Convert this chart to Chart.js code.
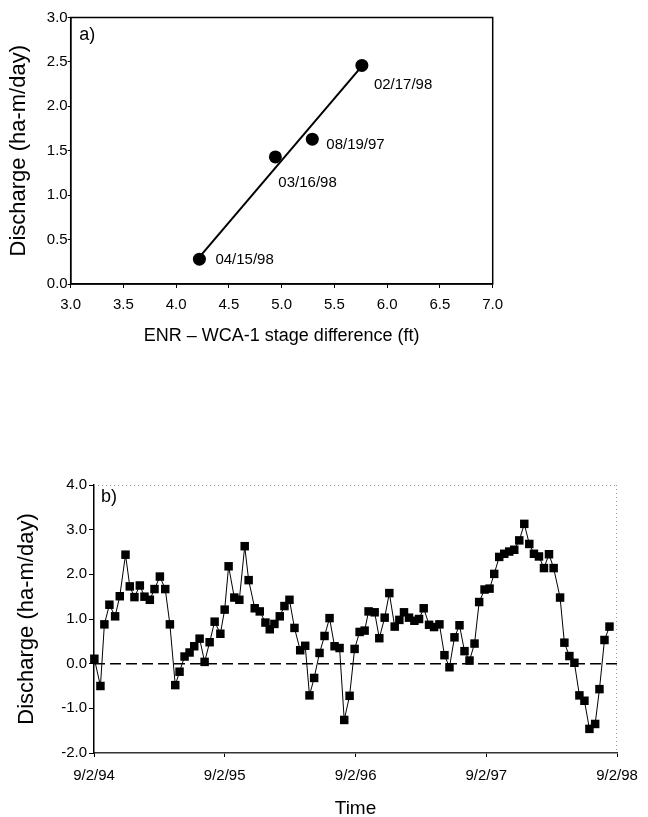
<!DOCTYPE html>
<html><head><meta charset="utf-8">
<script src="https://cdn.jsdelivr.net/npm/chart.js@4/dist/chart.umd.min.js"></script>
<style>
html,body{margin:0;padding:0;background:#fff;width:648px;height:817px;overflow:hidden}
#wa{position:absolute;left:0;top:0;width:648px;height:350px}
#wb{position:absolute;left:0;top:420px;width:648px;height:397px}
canvas{display:block}
</style></head><body>
<div id="wa"><canvas id="ca" width="648" height="350"></canvas></div>
<div id="wb"><canvas id="cb" width="648" height="397"></canvas></div>
<script>
// ---------- Panel a data ----------
const stageDiff  = [4.22, 4.94, 5.29, 5.76];
const dischargeA = [0.28, 1.43, 1.63, 2.46];
const pointDates = ['04/15/98', '03/16/98', '08/19/97', '02/17/98'];
const fitX = [4.24, 5.73];
const fitY = [0.33, 2.41];
const xTicksA = [3.0, 3.5, 4.0, 4.5, 5.0, 5.5, 6.0, 6.5, 7.0];
const yTicksA = [0.0, 0.5, 1.0, 1.5, 2.0, 2.5, 3.0];
const titlesA = {x: 'ENR – WCA-1 stage difference (ft)', y: 'Discharge (ha-m/day)', tag: 'a)'};

// ---------- Panel b data (days since 9/2/94, discharge ha-m/day) ----------
const timeDays = [1,18,29,43,59,72,88,100,113,128,141,156,169,184,199,212,227,239,253,267,280,295,309,323,337,353,
  365,376,392,406,421,432,449,463,479,491,504,519,532,546,560,576,590,602,615,630,644,658,672,686,699,714,728,742,
  756,767,784,797,812,825,840,853,866,880,895,908,921,936,950,965,979,993,1007,1021,1035,1049,1063,
  1076,1091,1105,1118,1132,1146,1160,1174,1188,1202,1216,1229,1243,1257,1271,1284,1302,1314,1328,1342,1356,1370,1384,1400,1412,1426,1440];
const dischargeB = [0.11,-0.50,0.88,1.32,1.06,1.51,2.44,1.73,1.49,1.75,1.50,1.43,1.67,1.95,1.67,0.88,-0.48,-0.18,0.16,0.25,0.39,0.56,0.04,0.48,0.94,0.67,
  1.21,2.18,1.48,1.43,2.63,1.87,1.24,1.17,0.92,0.77,0.89,1.06,1.29,1.43,0.80,0.30,0.40,-0.71,-0.32,0.24,0.62,1.02,0.39,0.35,-1.26,-0.72,0.33,0.71,
  0.74,1.17,1.15,0.57,1.03,1.58,0.83,0.98,1.15,1.03,0.96,1.00,1.24,0.87,0.82,0.88,0.19,-0.08,0.59,0.86,0.28,0.07,0.45,
  1.38,1.66,1.68,2.01,2.39,2.46,2.51,2.55,2.76,3.13,2.68,2.46,2.40,2.14,2.45,2.14,1.48,0.47,0.17,0.02,-0.71,-0.83,-1.46,-1.35,-0.57,0.53,0.83];
const xTickDaysB   = [0, 365, 731, 1096, 1461];
const xTickLabelsB = ['9/2/94', '9/2/95', '9/2/96', '9/2/97', '9/2/98'];
const yTicksB = [-2, -1, 0, 1, 2, 3, 4];
const zeroLevel = 0;
const titlesB = {x: 'Time', y: 'Discharge (ha-m/day)', tag: 'b)'};

// ---------- styles ----------
const FONT = "'Liberation Sans', Arial, Helvetica, sans-serif";
Chart.defaults.font.family = FONT;
Chart.defaults.color = '#000';
const labelOffsets = [[16, 1], [3, 26], [14, 6], [12, 19]];

function txt(ctx, text, x, y, size, align, rotate) {
  ctx.save();
  ctx.translate(x, y);
  if (rotate) ctx.rotate(-Math.PI / 2);
  ctx.font = size + 'px ' + FONT;
  ctx.fillStyle = '#000';
  ctx.textBaseline = 'middle';
  ctx.textAlign = align;
  ctx.fillText(text, 0, 0);
  ctx.restore();
}

const frameA = {
  id: 'frameA',
  afterDraw(chart) {
    const {ctx, chartArea: a} = chart;
    const xs = chart.scales.x, ys = chart.scales.y;
    ctx.save();
    ctx.strokeStyle = '#000'; ctx.lineWidth = 1.5;
    ctx.strokeRect(a.left, a.top, a.right - a.left, a.bottom - a.top);
    ctx.restore();
    pointDates.forEach((t, i) => {
      txt(ctx, t, xs.getPixelForValue(stageDiff[i]) + labelOffsets[i][0],
                  ys.getPixelForValue(dischargeA[i]) + labelOffsets[i][1], 15, 'left', false);
    });
    txt(ctx, titlesA.tag, a.left + 8.5, a.top + 17.5, 18, 'left', false);
    txt(ctx, titlesA.x, (a.left + a.right) / 2, 336, 18, 'center', false);
    txt(ctx, titlesA.y, 19, (a.top + a.bottom) / 2, 22, 'center', true);
  }
};

const frameB = {
  id: 'frameB',
  afterDraw(chart) {
    const {ctx, chartArea: a} = chart;
    ctx.save();
    ctx.strokeStyle = '#9a9a9a'; ctx.lineWidth = 1; ctx.setLineDash([1, 3]);
    ctx.beginPath();
    ctx.moveTo(a.left, a.top + 0.5); ctx.lineTo(a.right, a.top + 0.5);
    ctx.moveTo(a.right - 0.5, a.top); ctx.lineTo(a.right - 0.5, a.bottom);
    ctx.stroke();
    ctx.restore();
    txt(ctx, titlesB.tag, a.left + 7, a.top + 12, 18, 'left', false);
    txt(ctx, titlesB.x, (a.left + a.right) / 2, 389, 19, 'center', false);
    txt(ctx, titlesB.y, 27, (a.top + a.bottom) / 2, 22, 'center', true);
  }
};

const common = {
  responsive: false, animation: false, events: [],
  plugins: {legend: {display: false}, tooltip: {enabled: false}}
};

new Chart(document.getElementById('ca'), {
  type: 'scatter',
  data: {datasets: [
    {data: fitX.map((x, i) => ({x, y: fitY[i]})), showLine: true, borderColor: '#000', borderWidth: 2, pointRadius: 0, order: 2},
    {data: stageDiff.map((x, i) => ({x, y: dischargeA[i]})), pointStyle: 'circle', pointRadius: 6.5,
     pointBackgroundColor: '#000', pointBorderWidth: 0, clip: false, order: 1}
  ]},
  options: Object.assign({}, common, {
    layout: {padding: {top: 17.5, right: 155.3, left: 0, bottom: 0}},
    scales: {
      x: {type: 'linear', min: 3, max: 7,
          afterBuildTicks: s => { s.ticks = xTicksA.map(v => ({value: v})); },
          afterFit: s => { s.height = 66; },
          ticks: {callback: v => Number(v).toFixed(1), maxRotation: 0, autoSkip: false, padding: 8, font: {size: 15}, color: '#000'},
          grid: {drawOnChartArea: false, drawTicks: true, tickLength: 4, color: '#000', lineWidth: 1},
          border: {display: true, color: '#000', width: 1.5},
          title: {display: false}},
      y: {type: 'linear', min: 0, max: 3,
          afterBuildTicks: s => { s.ticks = yTicksA.map(v => ({value: v})); },
          afterFit: s => { s.width = 70.7; },
          ticks: {callback: v => Number(v).toFixed(1), padding: 0, font: {size: 15}, color: '#000'},
          grid: {drawOnChartArea: false, drawTicks: true, tickLength: 3, color: '#000', lineWidth: 1},
          border: {display: true, color: '#000', width: 1.5},
          title: {display: false}}
    }
  }),
  plugins: [frameA]
});

new Chart(document.getElementById('cb'), {
  type: 'scatter',
  data: {datasets: [
    {data: [{x: xTickDaysB[0], y: zeroLevel}, {x: xTickDaysB[xTickDaysB.length - 1], y: zeroLevel}], showLine: true,
     borderColor: '#000', borderWidth: 1.5, borderDash: [11, 5], pointRadius: 0, order: 2},
    {data: timeDays.map((x, i) => ({x, y: dischargeB[i]})), showLine: true, borderColor: '#000', borderWidth: 1,
     pointStyle: 'rect', pointRadius: 6, pointBackgroundColor: '#000', pointBorderWidth: 0, clip: false, order: 1}
  ]},
  options: Object.assign({}, common, {
    layout: {padding: {top: 65, right: 31, left: 0, bottom: 0}},
    scales: {
      x: {type: 'linear', min: xTickDaysB[0], max: xTickDaysB[xTickDaysB.length - 1],
          afterBuildTicks: s => { s.ticks = xTickDaysB.map(v => ({value: v})); },
          afterFit: s => { s.height = 64; },
          ticks: {callback: (v, i) => xTickLabelsB[i], maxRotation: 0, autoSkip: false, padding: 10, font: {size: 15}, color: '#000'},
          grid: {drawOnChartArea: false, drawTicks: true, tickLength: 4, color: '#000', lineWidth: 1},
          border: {display: true, color: '#333', width: 1.5},
          title: {display: false}},
      y: {type: 'linear', min: -2, max: 4,
          afterBuildTicks: s => { s.ticks = yTicksB.map(v => ({value: v})); },
          afterFit: s => { s.width = 94; },
          ticks: {callback: v => Number(v).toFixed(1), padding: 2, font: {size: 15}, color: '#000'},
          grid: {drawOnChartArea: false, drawTicks: true, tickLength: 5, color: '#000', lineWidth: 1},
          border: {display: true, color: '#000', width: 1.5},
          title: {display: false}}
    }
  }),
  plugins: [frameB]
});
</script>
</body></html>
